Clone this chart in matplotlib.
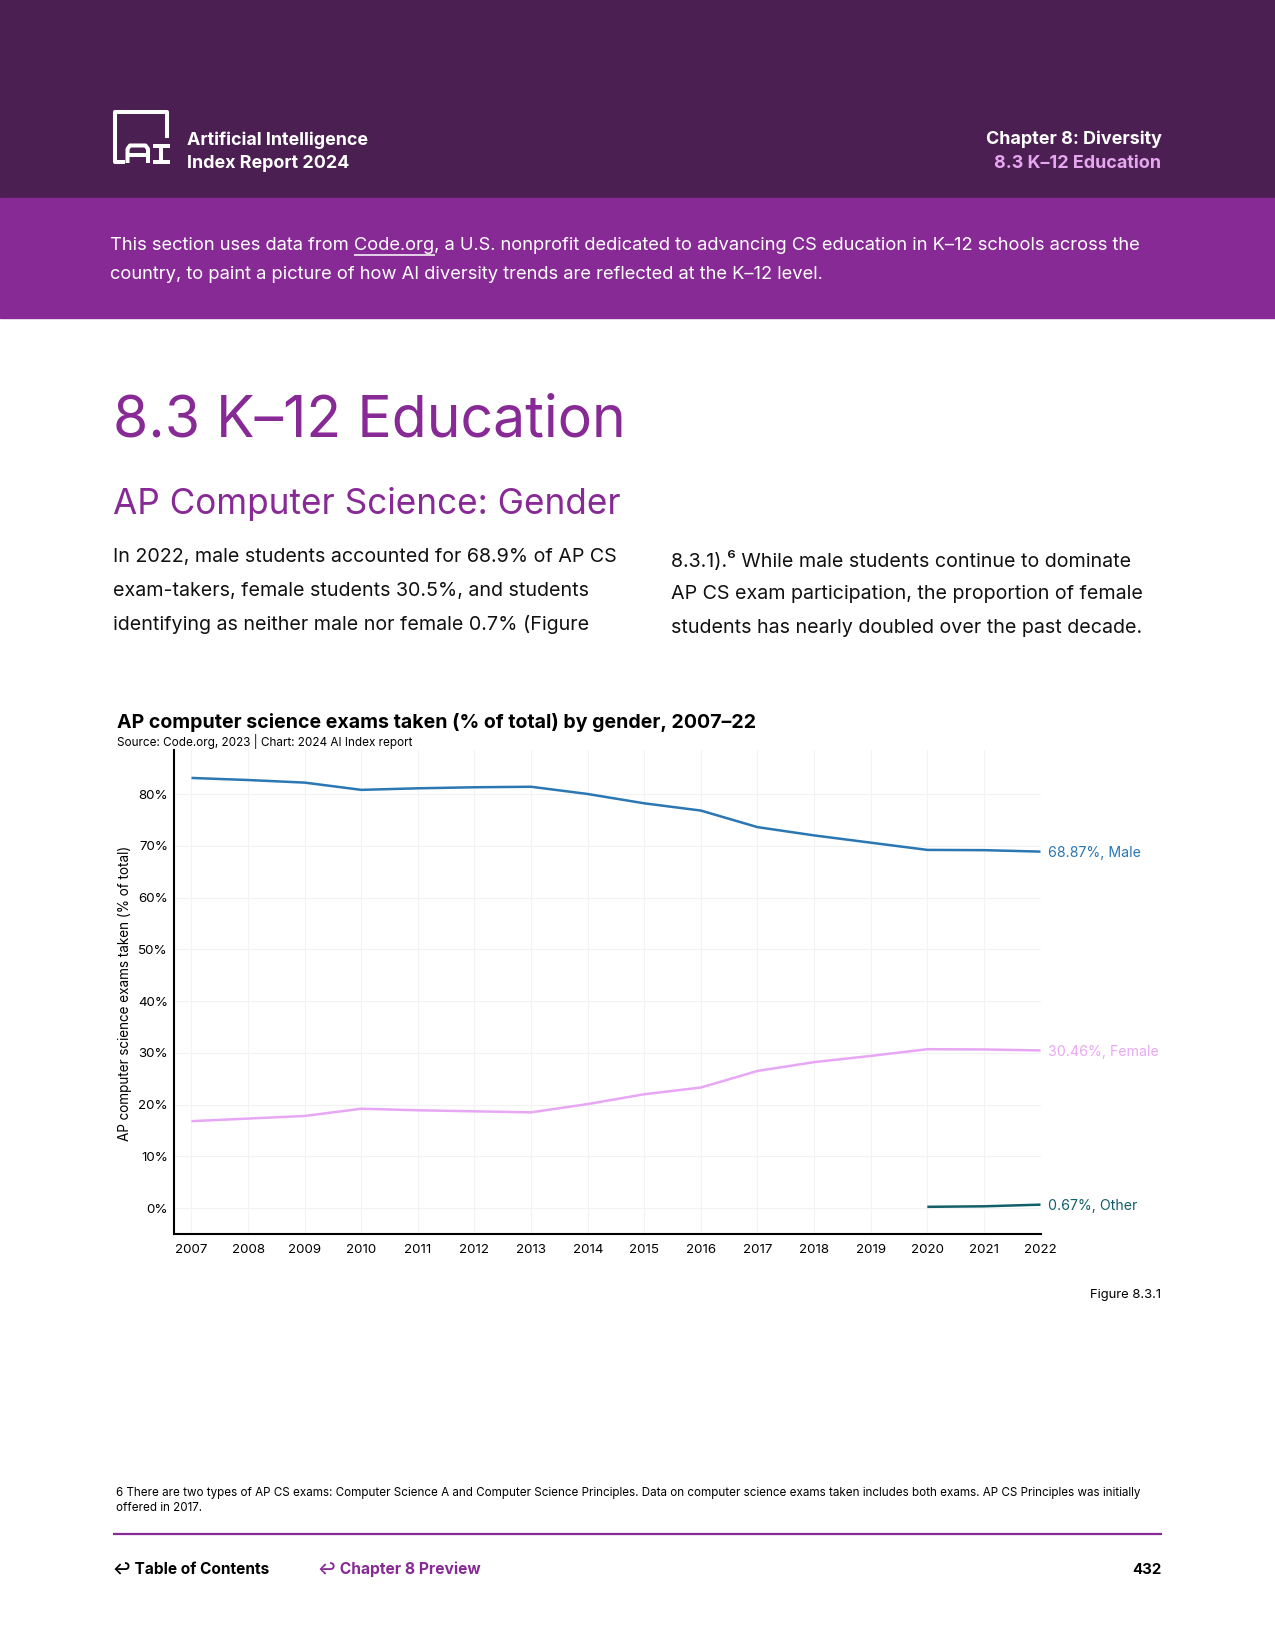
import matplotlib
matplotlib.use("Agg")
import matplotlib.pyplot as plt
from matplotlib.lines import Line2D
from matplotlib.patches import Rectangle

W, H = 1275, 1650
FONT = ["Inter", "DejaVu Sans"]
plt.rcParams["font.family"] = FONT

# data (% of AP CS exams taken)
years = list(range(2007, 2023))
male = [83.1, 82.7, 82.2, 80.8, 81.1, 81.3, 81.4, 80.0, 78.2, 76.8,
        73.6, 72.0, 70.6, 69.2, 69.15, 68.87]
female = [16.8, 17.3, 17.8, 19.2, 18.9, 18.7, 18.5, 20.1, 22.0, 23.3,
          26.5, 28.2, 29.4, 30.7, 30.65, 30.46]
other_years = [2020, 2021, 2022]
other = [0.25, 0.35, 0.67]
yticks = [0, 10, 20, 30, 40, 50, 60, 70, 80]

series = [
    (years, male, "68.87%, Male", "#2a77b3"),
    (years, female, "30.46%, Female", "#e8a7f5"),
    (other_years, other, "0.67%, Other", "#125f68"),
]

DARK = "#4b1f51"
PURPLE = "#872a95"
PINK = "#e6a6f0"
INK = "#111111"

fig = plt.figure(figsize=(12.75, 16.5), dpi=100)
renderer = fig.canvas.get_renderer()


def fx(x):
    return x / W


def fy(y):
    return 1 - y / H


def put(x, y, s, width=None, size=12, dy=2.2, **kw):
    # place text by page pixels; optionally scale font so it spans `width` px
    kw.setdefault("va", "center")
    kw.setdefault("ha", "left")
    t = fig.text(fx(x), fy(y + dy), s, fontsize=size, **kw)
    if width:
        bb = t.get_window_extent(renderer)
        span = bb.height if kw.get("rotation") == 90 else bb.width
        t.set_fontsize(size * width / span)
    return t


def text_width(s, size, **kw):
    t = fig.text(0, 0, s, fontsize=size, **kw)
    w = t.get_window_extent(renderer).width
    t.remove()
    return w


def seg(pts, color="white", lw=2.9, **kw):
    xs = [fx(p[0]) for p in pts]
    ys = [fy(p[1]) for p in pts]
    fig.add_artist(Line2D(xs, ys, color=color, lw=lw, transform=fig.transFigure,
                          solid_joinstyle="round", solid_capstyle="butt", **kw))


# page bands
fig.add_artist(Rectangle((0, fy(198)), 1, 198 / H, transform=fig.transFigure,
                         color=DARK, zorder=0))
fig.add_artist(Rectangle((0, fy(318)), 1, 120 / H, transform=fig.transFigure,
                         color=PURPLE, zorder=0))

# logo
seg([(125, 161.5), (115, 161.5), (115, 112), (166.5, 112), (166.5, 138)])
seg([(127.5, 163), (127.5, 149), (130, 145.5), (145.5, 145.5), (148, 149), (148, 163)])
seg([(127.5, 154.5), (148, 154.5)])
seg([(153, 145.5), (169.5, 145.5)])
seg([(161.2, 145.5), (161.2, 161.5)])
seg([(153, 161.5), (169.5, 161.5)])

t = put(187, 138, "Artificial Intelligence", width=180, weight="bold", color="white")
put(187, 161, "Index Report 2024", size=t.get_fontsize(), weight="bold", color="white")
t = put(1161.5, 137, "Chapter 8: Diversity", width=175, weight="bold", color="white", ha="right")
put(1161.5, 161, "8.3 K–12 Education", size=t.get_fontsize(), weight="bold", color=PINK, ha="right")

# intro band text with underlined link
line1 = ("This section uses data from Code.org, a U.S. nonprofit dedicated to advancing "
         "CS education in K–12 schools across the")
t = put(110.5, 243, line1, width=1037, color="white")
bs = t.get_fontsize()
put(110.5, 272.5, "country, to paint a picture of how AI diversity trends are reflected "
    "at the K–12 level.", size=bs, color="white")
end = text_width("This section uses data from Code.org", bs)
start = end - text_width("Code.org", bs)
seg([(110.5 + start, 255), (110.5 + end, 255)], lw=1.1)

# headings
put(112.6, 415.5, "8.3 K–12 Education", width=513, color=PURPLE, dy=6)
put(112.6, 500.7, "AP Computer Science: Gender", width=507, color=PURPLE, dy=3.5)

left_col = ["In 2022, male students accounted for 68.9% of AP CS",
            "exam-takers, female students 30.5%, and students",
            "identifying as neither male nor female 0.7% (Figure"]
right_col = ["8.3.1).⁶ While male students continue to dominate",
             "AP CS exam participation, the proportion of female",
             "students has nearly doubled over the past decade."]
t = put(112.6, 554.4, left_col[0], width=505, color=INK, dy=3)
body = t.get_fontsize()
for i, s in enumerate(left_col[1:], 1):
    put(112.6, 554.4 + 33.65 * i, s, size=body, color=INK, dy=3)
for i, s in enumerate(right_col):
    put(671, 558.6 + 33.7 * i, s, size=body, color=INK, dy=2)

# chart titles
put(116.8, 720.6, "AP computer science exams taken (% of total) by gender, 2007–22",
    width=637, weight="bold", color="black")
put(116.8, 740.6, "Source: Code.org, 2023 | Chart: 2024 AI Index report",
    width=297, color="black", dy=1)

# chart
ax = fig.add_axes([fx(173.6), fy(1234), (1040.5 - 173.6) / W, (1234 - 750) / H])
for xs, ys, label, color in series:
    ax.plot(xs, ys, color=color, lw=1.8, solid_capstyle="butt", zorder=3)
    ax.annotate(label, (xs[-1], ys[-1]), xytext=(5.5, -1), textcoords="offset points",
                va="center", ha="left", color=color, fontsize=10.2,
                annotation_clip=False)

ax.set_xlim(2006.684, 2022)
ax.set_ylim(-5, 88.5)
ax.set_xticks(years)
ax.set_xticklabels([str(y) for y in years])
ax.set_yticks(yticks)
ax.set_yticklabels([f"{v}%" for v in yticks])
ax.tick_params(axis="both", length=0, labelsize=9.6, colors="black")
ax.tick_params(axis="x", pad=7.5)
ax.tick_params(axis="y", pad=4)
for yv in yticks:
    ax.axhline(yv, color="#f2f2f2", lw=0.8, zorder=0)
for xv in years:
    ax.axvline(xv, color="#f3f3f3", lw=0.8, zorder=0)
for side in ("top", "right"):
    ax.spines[side].set_visible(False)
for side in ("left", "bottom"):
    ax.spines[side].set_linewidth(1.5)
    ax.spines[side].set_color("black")

put(125, 993, "AP computer science exams taken (% of total)", width=297,
    rotation=90, ha="center", color="black", dy=0)

put(1161.5, 1293, "Figure 8.3.1", width=71.5, ha="right", color="black")

# footnote and footer
t = put(115.7, 1490.7, "6 There are two types of AP CS exams: Computer Science A and Computer "
        "Science Principles. Data on computer science exams taken includes both exams. "
        "AP CS Principles was initially", width=1025, color="black")
put(115.7, 1505.5, "offered in 2017.", size=t.get_fontsize(), color="black")
seg([(112.6, 1533.8), (1161.5, 1533.8)], color=PURPLE, lw=1.6)

put(112.6, 1567.5, "↩ Table of Contents", width=155.7, weight="bold", color="black")
put(317.7, 1567.5, "↩ Chapter 8 Preview", width=162, weight="bold", color=PURPLE)
put(1161.5, 1567.5, "432", width=29.5, weight="bold", ha="right", color="black")

fig.savefig("out.png", dpi=100, facecolor="white")
